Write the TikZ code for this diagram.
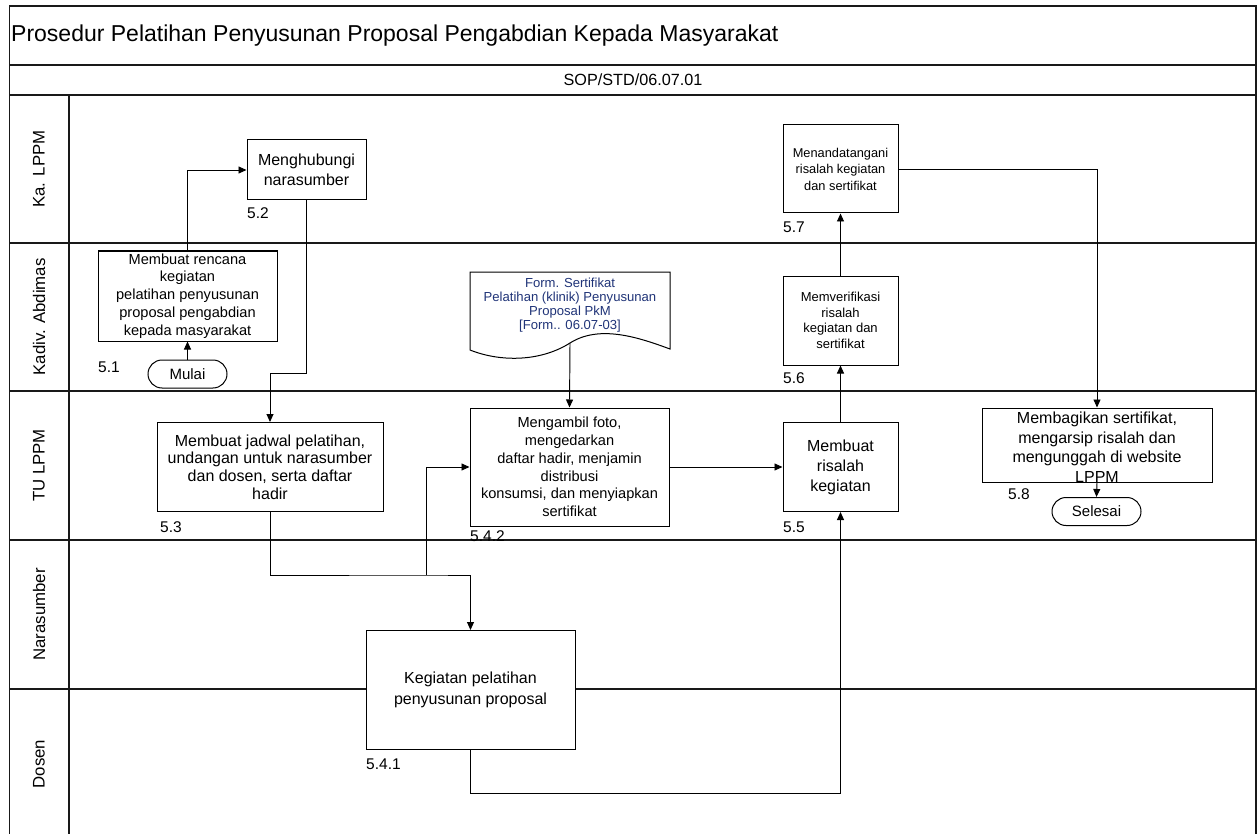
\documentclass[tikz,border=0pt]{standalone}
\usepackage{fontspec}
\setmainfont{Liberation Sans}
\usetikzlibrary{arrows.meta,shapes.misc,calc}
\definecolor{doccol}{RGB}{32,52,120}
\newcommand{\myfs}[2]{\fontsize{#1}{#2}\selectfont}
\begin{document}
\begin{tikzpicture}[x=1pt,y=-1pt,
 frame/.style={line width=1.2pt, draw=black!90},
 box/.style={draw, line width=1pt, fill=white, inner sep=0pt, align=center},
 term/.style={draw, line width=1pt, fill=white, rounded rectangle, inner sep=0pt, minimum width=79pt, minimum height=28pt, font=\myfs{15}{18}},
 lbl/.style={anchor=west, inner sep=0pt, font=\myfs{15.5}{18}},
 lane/.style={rotate=90, inner sep=0pt, font=\myfs{16.8}{19}},
 arr/.style={line width=0.95pt, -{Triangle[length=8pt,width=7pt]}},
 ln/.style={line width=0.95pt}
]
\useasboundingbox (0,0) rectangle (1257,834);
% frame
\draw[frame] (9.5,834) -- (9.5,6) -- (1256,6) -- (1256,834);
\draw[frame] (9.5,65) -- (1256,65);
\draw[frame] (9.5,95) -- (1256,95);
\draw[frame] (69,95) -- (69,834);
\foreach \yy in {243,391,540,689} \draw[frame] (9.5,\yy) -- (1256,\yy);
\node[anchor=west, inner sep=0pt, font=\myfs{23}{26}] (title) at (11,35.5) {Prosedur Pelatihan Penyusunan Proposal Pengabdian Kepada Masyarakat};
\node[inner sep=0pt, font=\myfs{16.2}{18}] (sop) at (633,80) {SOP/STD/06.07.01};
% lanes
\node[lane] (l1) at (39,169) {Ka. LPPM};
\node[lane] (l2) at (39,317) {Kadiv. Abdimas};
\node[lane] (l3) at (39,465.5) {TU LPPM};
\node[lane] (l4) at (39,614.5) {Narasumber};
\node[lane] (l5) at (39,764) {Dosen};
% nodes
\node[box, minimum width=179pt, minimum height=90pt, font=\myfs{14.6}{17.8}] (n51) at (187.5,296) {Membuat rencana\\ kegiatan\\ pelatihan penyusunan\\ proposal pengabdian\\ kepada masyarakat};
\node[term] (mulai) at (187.5,374) {Mulai};
\node[box, minimum width=119pt, minimum height=60pt, font=\myfs{16}{20}] (n52) at (306.5,170) {Menghubungi\\ narasumber};
\node[box, minimum width=226pt, minimum height=89pt, font=\myfs{16}{17.8}] (n53) at (270,467) {Membuat jadwal pelatihan,\\ undangan untuk narasumber\\ dan dosen, serta daftar\\ hadir};
\node[box, minimum width=199pt, minimum height=118pt, font=\myfs{14.6}{17.8}] (n542) at (569.5,467) {Mengambil foto,\\ mengedarkan\\ daftar hadir, menjamin\\ distribusi\\ konsumsi, dan menyiapkan\\ sertifikat};
\node[box, minimum width=115pt, minimum height=89pt, font=\myfs{16}{20}] (n55) at (840.5,467) {Membuat\\ risalah\\ kegiatan};
\node[box, minimum width=115pt, minimum height=89pt, font=\myfs{13}{15.5}] (n56) at (840.5,320.5) {Memverifikasi\\ risalah\\ kegiatan dan\\ sertifikat};
\node[box, minimum width=115pt, minimum height=88pt, font=\myfs{12.8}{16.5}] (n57) at (840.5,169) {Menandatangani\\ risalah kegiatan\\ dan sertifikat};
\node[box, minimum width=230pt, minimum height=74pt] (n58) at (1097,445) {};
\node[inner sep=0pt, align=center, font=\myfs{16}{19.5}] (t58) at (1097,447) {Membagikan sertifikat,\\ mengarsip risalah dan\\ mengunggah di website\\ LPPM};
\node[term, minimum width=89pt] (selesai) at (1096.5,511.5) {Selesai};
\node[box, minimum width=209pt, minimum height=119pt, font=\myfs{16}{21}] (n541) at (470.5,690) {Kegiatan pelatihan\\ penyusunan proposal};
% document
\draw[line width=1pt, fill=white] (470,350) -- (470,272) -- (670,272) -- (670,349)
  .. controls (640,338) and (600,324) .. (570,343)
  .. controls (540,362) and (500,362) .. (470,350) -- cycle;
\node[inner sep=0pt, align=center, text=doccol, font=\myfs{13.1}{14.2}] (doc) at (570,305) {Form. Sertifikat\\ Pelatihan (klinik) Penyusunan\\ Proposal PkM\\ {[Form.. 06.07-03]}};
\coordinate (docb) at (570,343);
% step labels
\node[lbl] (s51) at (98,367) {5.1};
\node[lbl] (s52) at (247,213) {5.2};
\node[lbl] (s53) at (160,527) {5.3};
\node[lbl] (s542) at (470,536) {5.4.2};
\node[lbl] (s55) at (783,527) {5.5};
\node[lbl] (s56) at (783,378) {5.6};
\node[lbl] (s57) at (783,227) {5.7};
\node[lbl] (s58) at (1008,494) {5.8};
\node[lbl] (s541) at (366,764) {5.4.1};
% connectors
\coordinate (c1) at (270,373);
\coordinate (c2) at (426,575);
\coordinate (c3) at (840.5,793);
\draw[arr] (mulai.north) -- (n51.south);
\draw[arr] (n51.north) |- (n52.west);
\draw[arr] (n52.south) |- (c1) -- (n53.north);
\draw[arr] (n53.south) |- (c2) -| (n541.north);
\draw[arr] (c2) |- (n542.west);
\draw[arr] (docb) -- (n542.north);
\draw[arr] (n542.east) -- (n55.west);
\draw[arr] (n541.south) |- (c3) -- (n55.south);
\draw[arr] (n55.north) -- (n56.south);
\draw[arr] (n56.north) -- (n57.south);
\draw[arr] (n57.east) -| (n58.north);
\draw[arr] (n58.south) -- (selesai.north);
\end{tikzpicture}
\end{document}
